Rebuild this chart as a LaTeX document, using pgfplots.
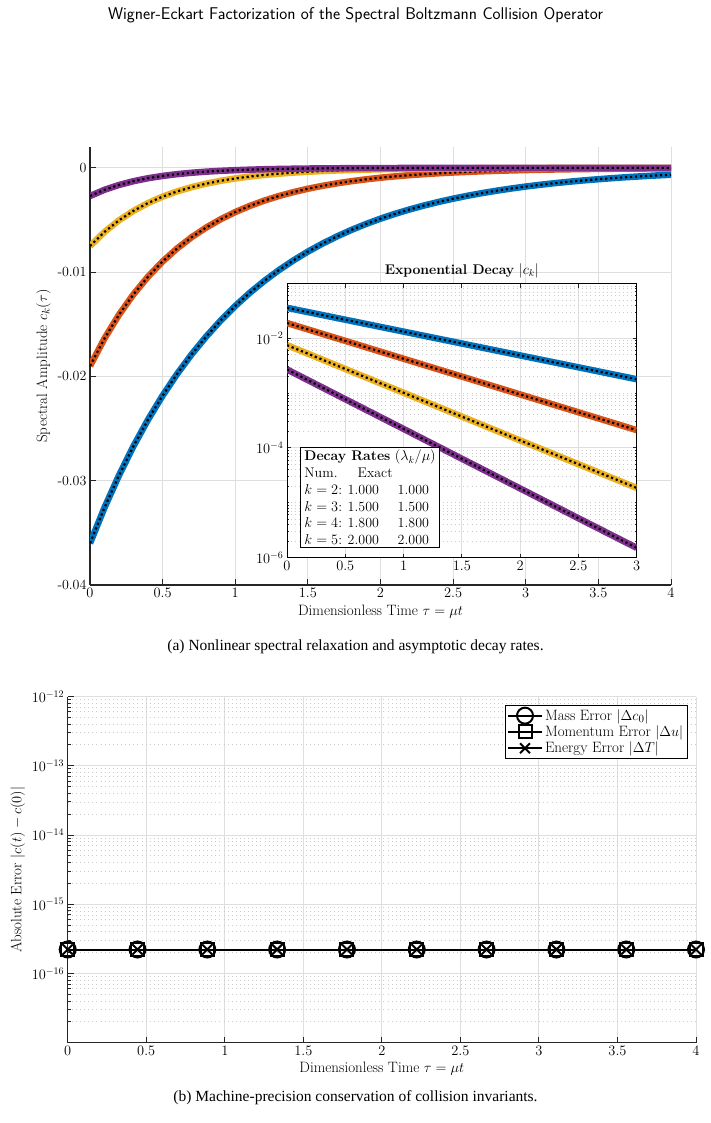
\documentclass[border=0pt]{standalone}
\usepackage{pgfplots}
\usepackage{pgfplotstable}
\pgfplotsset{compat=1.18}
\usepackage{fontspec}
\newfontfamily\capfont{Liberation Serif}

\definecolor{mblue}{rgb}{0,0.447,0.741}
\definecolor{mred}{rgb}{0.850,0.325,0.098}
\definecolor{myellow}{rgb}{0.929,0.694,0.125}
\definecolor{mpurple}{rgb}{0.494,0.184,0.556}

% c_k(tau) for k = 2..5 (columns b, o, y, p)
\pgfplotstableread{
t    b          o          y          p
0.0  -0.036000  -0.019000  -0.007500  -0.002700
0.1  -0.032574  -0.016353  -0.006140  -0.002103
0.2  -0.029474  -0.014076  -0.005027  -0.001638
0.3  -0.026669  -0.012115  -0.004116  -0.001275
0.4  -0.024132  -0.010427  -0.003370  -0.000993
0.5  -0.021835  -0.008975  -0.002759  -0.000774
0.6  -0.019757  -0.007725  -0.002259  -0.000602
0.7  -0.017877  -0.006649  -0.001849  -0.000469
0.8  -0.016176  -0.005723  -0.001514  -0.000365
0.9  -0.014637  -0.004926  -0.001240  -0.000285
1.0  -0.013244  -0.004239  -0.001015  -0.000222
1.1  -0.011983  -0.003649  -0.000831  -0.000173
1.2  -0.010843  -0.003141  -0.000680  -0.000134
1.3  -0.009811  -0.002703  -0.000557  -0.000105
1.4  -0.008878  -0.002327  -0.000456  -0.000082
1.5  -0.008033  -0.002003  -0.000373  -0.000063
1.6  -0.007268  -0.001724  -0.000306  -0.000049
1.7  -0.006577  -0.001484  -0.000250  -0.000039
1.8  -0.005951  -0.001277  -0.000205  -0.000030
1.9  -0.005384  -0.001099  -0.000168  -0.000023
2.0  -0.004872  -0.000946  -0.000137  -0.000018
2.1  -0.004408  -0.000814  -0.000112  -0.000014
2.2  -0.003989  -0.000701  -0.000092  -0.000011
2.3  -0.003609  -0.000603  -0.000075  -0.000009
2.4  -0.003266  -0.000519  -0.000062  -0.000007
2.5  -0.002955  -0.000447  -0.000051  -0.000005
2.6  -0.002674  -0.000385  -0.000041  -0.000004
2.7  -0.002419  -0.000331  -0.000034  -0.000003
2.8  -0.002189  -0.000285  -0.000028  -0.000002
2.9  -0.001981  -0.000245  -0.000023  -0.000002
3.0  -0.001792  -0.000211  -0.000019  -0.0000015
3.1  -0.001622  -0.000182  -0.000015  -0.0000012
3.2  -0.001467  -0.000156  -0.000012  -0.0000009
3.3  -0.001328  -0.000135  -0.000010  -0.0000007
3.4  -0.001201  -0.000116  -0.000008  -0.0000005
3.5  -0.001087  -0.000100  -0.000007  -0.0000004
3.6  -0.000984  -0.000086  -0.000006  -0.0000003
3.7  -0.000890  -0.000074  -0.000005  -0.0000003
3.8  -0.000805  -0.000064  -0.000004  -0.0000002
3.9  -0.000729  -0.000055  -0.000003  -0.0000002
4.0  -0.000659  -0.000047  -0.000003  -0.0000001
}\maindata

% |c_k(tau)| on the inset interval
\pgfplotstableread{
t    b         o          y           p
0.0  0.036000  0.019000   0.0075000   0.0027000
0.5  0.021835  0.008975   0.0027590   0.0007740
1.0  0.013244  0.004239   0.0010150   0.0002220
1.5  0.008033  0.002003   0.0003730   0.0000634
2.0  0.004872  0.000946   0.0001370   0.0000182
2.5  0.002955  0.000447   0.0000505   0.0000052
3.0  0.001792  0.000211   0.0000186   0.0000015
}\insetdata

\pgfplotsset{
  numline/.style={line width=6.5pt},
  exactline/.style={black, line width=2.2pt, dash pattern=on 2.2pt off 2.8pt},
  mlaxis/.style={
    scale only axis,
    tick align=inside,
    axis line style={-, black!85, line width=1.1pt},
    tick style={black!85, line width=1pt},
    major tick length=6pt,
    minor tick length=3pt,
    major grid style={black!13, line width=1pt},
    minor grid style={black!20, line width=0.9pt, dash pattern=on 0.9pt off 3.2pt},
    tick label style={font=\fontsize{14}{16}\selectfont},
    label style={font=\fontsize{15}{18}\selectfont},
  },
}

\begin{document}
\begin{tikzpicture}
\path[use as bounding box] (0pt,0pt) rectangle (711pt,-1123pt);

\node[font=\sffamily\fontsize{17}{20}\selectfont] at (355.5pt,-15pt)
  {Wigner-Eckart Factorization of the Spectral Boltzmann Collision Operator};

% ---------- (a) spectral amplitudes ----------
\begin{axis}[mlaxis,
  at={(90pt,-585pt)}, anchor=south west,
  width=581pt, height=438pt,
  xmin=0, xmax=4, ymin=-0.04, ymax=0.002,
  axis x line*=bottom, axis y line*=left,
  xtick={0,0.5,1,1.5,2,2.5,3,3.5,4},
  ytick={-0.04,-0.03,-0.02,-0.01,0},
  yticklabels={-0.04,-0.03,-0.02,-0.01,0},
  scaled y ticks=false,
  grid=major,
  xlabel={Dimensionless Time $\tau = \mu t$},
  ylabel={Spectral Amplitude $c_k(\tau)$},
]
\addplot[mblue, numline] table[x=t,y=b]{\maindata};
\addplot[exactline] table[x=t,y=b]{\maindata};
\addplot[mred, numline] table[x=t,y=o]{\maindata};
\addplot[exactline] table[x=t,y=o]{\maindata};
\addplot[myellow, numline] table[x=t,y=y]{\maindata};
\addplot[exactline] table[x=t,y=y]{\maindata};
\addplot[mpurple, numline] table[x=t,y=p]{\maindata};
\addplot[exactline] table[x=t,y=p]{\maindata};
\end{axis}

% ---------- inset: exponential decay ----------
\begin{axis}[mlaxis,
  at={(287pt,-557.5pt)}, anchor=south west,
  width=349.7pt, height=274pt,
  ymode=log,
  xmin=0, xmax=3, ymin=1e-6, ymax=0.1,
  axis background/.style={fill=white},
  axis line style={black, line width=1pt},
  major tick length=4pt, minor tick length=2pt,
  xtick={0,0.5,1,1.5,2,2.5,3},
  ytick={1e-6,1e-4,1e-2},
  minor ytick={2e-6,3e-6,4e-6,5e-6,6e-6,7e-6,8e-6,9e-6,1e-5,
    2e-5,3e-5,4e-5,5e-5,6e-5,7e-5,8e-5,9e-5,
    2e-4,3e-4,4e-4,5e-4,6e-4,7e-4,8e-4,9e-4,1e-3,
    2e-3,3e-3,4e-3,5e-3,6e-3,7e-3,8e-3,9e-3,
    2e-2,3e-2,4e-2,5e-2,6e-2,7e-2,8e-2,9e-2},
  grid=both,
  title={\textbf{Exponential Decay} $|c_k|$},
  title style={font=\fontsize{14}{16}\selectfont, yshift=-4pt},
]
\addplot[mblue, numline] table[x=t,y=b]{\insetdata};
\addplot[exactline] table[x=t,y=b]{\insetdata};
\addplot[mred, numline] table[x=t,y=o]{\insetdata};
\addplot[exactline] table[x=t,y=o]{\insetdata};
\addplot[myellow, numline] table[x=t,y=y]{\insetdata};
\addplot[exactline] table[x=t,y=y]{\insetdata};
\addplot[mpurple, numline] table[x=t,y=p]{\insetdata};
\addplot[exactline] table[x=t,y=p]{\insetdata};
\node[draw=black, line width=1pt, fill=white, anchor=south west,
      align=left, inner xsep=4pt, inner ysep=3pt,
      font=\fontsize{14}{16.7}\selectfont]
  at (rel axis cs:0.037,0.034) {%
  \textbf{Decay Rates} $(\lambda_k/\mu)$\\
  \makebox[53.3pt][l]{Num.}Exact\\
  \makebox[43.3pt][l]{$k=2$:}\makebox[50pt][l]{1.000}1.000\\
  \makebox[43.3pt][l]{$k=3$:}\makebox[50pt][l]{1.500}1.500\\
  \makebox[43.3pt][l]{$k=4$:}\makebox[50pt][l]{1.800}1.800\\
  \makebox[43.3pt][l]{$k=5$:}\makebox[50pt][l]{2.000}2.000};
\end{axis}

\node[font=\capfont\fontsize{15.5}{18}\selectfont] at (355.5pt,-647pt)
  {(a) Nonlinear spectral relaxation and asymptotic decay rates.};

% ---------- (b) conservation errors ----------
\begin{axis}[mlaxis,
  at={(67.7pt,-1042.7pt)}, anchor=south west,
  width=628.3pt, height=346.2pt,
  ymode=log,
  xmin=0, xmax=4, ymin=1e-17, ymax=1e-12,
  axis x line*=bottom, axis y line*=left,
  xtick={0,0.5,1,1.5,2,2.5,3,3.5,4},
  ytick={1e-16,1e-15,1e-14,1e-13,1e-12},
  minor ytick={2e-17,3e-17,4e-17,5e-17,6e-17,7e-17,8e-17,9e-17,
    2e-16,3e-16,4e-16,5e-16,6e-16,7e-16,8e-16,9e-16,
    2e-15,3e-15,4e-15,5e-15,6e-15,7e-15,8e-15,9e-15,
    2e-14,3e-14,4e-14,5e-14,6e-14,7e-14,8e-14,9e-14,
    2e-13,3e-13,4e-13,5e-13,6e-13,7e-13,8e-13,9e-13},
  grid=both,
  xlabel={Dimensionless Time $\tau = \mu t$},
  ylabel={Absolute Error $|c(t) - c(0)|$},
  legend style={at={(0.9868,0.9755)}, anchor=north east,
    draw=black, line width=1pt, fill=white,
    font=\fontsize{15}{17}\selectfont, inner sep=2pt},
  legend cell align=left,
  legend image code/.code={%
    \draw[mark repeat=2, mark phase=2, #1]
      plot coordinates {(0pt,0pt) (17pt,0pt) (34pt,0pt)};},
]
\addplot[black, line width=2pt, mark=o, mark size=8pt, mark options={solid}]
  coordinates {(0,2.22e-16) (0.4444,2.22e-16) (0.8889,2.22e-16) (1.3333,2.22e-16)
    (1.7778,2.22e-16) (2.2222,2.22e-16) (2.6667,2.22e-16) (3.1111,2.22e-16)
    (3.5556,2.22e-16) (4,2.22e-16)};
\addlegendentry{Mass Error $|\Delta c_0|$}
\addplot[black, line width=2pt, mark=square, mark size=6.5pt, mark options={solid}]
  coordinates {(0,2.22e-16) (0.4444,2.22e-16) (0.8889,2.22e-16) (1.3333,2.22e-16)
    (1.7778,2.22e-16) (2.2222,2.22e-16) (2.6667,2.22e-16) (3.1111,2.22e-16)
    (3.5556,2.22e-16) (4,2.22e-16)};
\addlegendentry{Momentum Error $|\Delta u|$}
\addplot[black, line width=2pt, mark=x, mark size=7pt, mark options={solid}]
  coordinates {(0,2.22e-16) (0.4444,2.22e-16) (0.8889,2.22e-16) (1.3333,2.22e-16)
    (1.7778,2.22e-16) (2.2222,2.22e-16) (2.6667,2.22e-16) (3.1111,2.22e-16)
    (3.5556,2.22e-16) (4,2.22e-16)};
\addlegendentry{Energy Error $|\Delta T|$}
\end{axis}

\node[font=\capfont\fontsize{15.5}{18}\selectfont] at (355.5pt,-1098pt)
  {(b) Machine-precision conservation of collision invariants.};
\end{tikzpicture}
\end{document}
